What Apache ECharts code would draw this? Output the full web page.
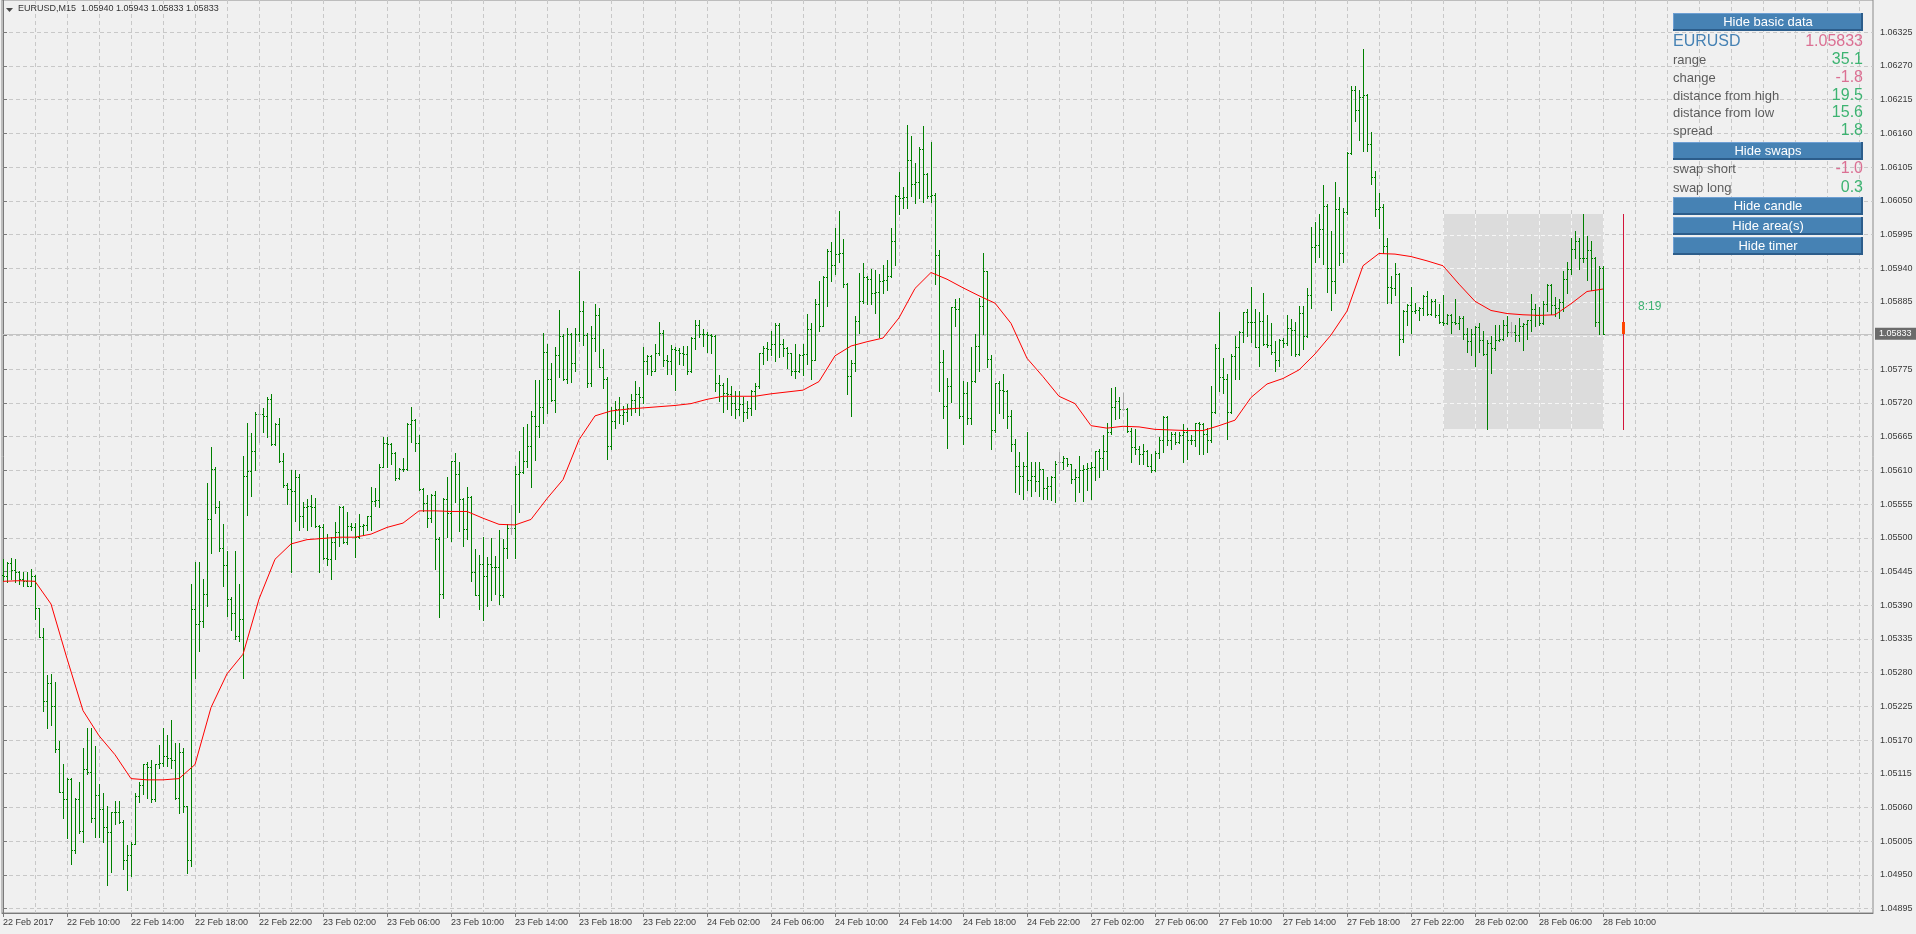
<!DOCTYPE html>
<html>
<head>
<meta charset="utf-8">
<title>EURUSD,M15</title>
<script src="https://cdn.jsdelivr.net/npm/echarts@6/dist/echarts.min.js"></script>
<style>
  html, body { margin: 0; padding: 0; background: #f0f0f0; }
  #chart { width: 1916px; height: 934px; }
</style>
</head>
<body>
<div id="chart"></div>
<script>
// EURUSD M15, 22 Feb 2017 06:00 -> 28 Feb 2017 10:00, prices in points (1e-5)
const openPts = [
  105440,105437,105459,105447,105445,105433,105429,105422,105437,105385,
  105338,105233,105263,105225,105155,105085,105074,105107,104990,105074,
  105022,105122,105118,105042,105081,105058,105028,105020,105052,105053,
  105036,104975,104982,105001,105079,105097,105131,105126,105073,105131,
  105133,105144,105140,105138,105075,105150,105062,104975,105384,105360,
  105365,105408,105531,105613,105550,105484,105456,105400,105377,105339,
  105368,105601,105609,105642,105702,105702,105699,105727,105653,105685,
  105626,105587,105580,105577,105599,105535,105551,105552,105551,105520,
  105517,105467,105465,105493,105509,105551,105493,105520,105517,105501,
  105520,105521,105535,105560,105562,105616,105654,105653,105638,105598,
  105612,105613,105686,105692,105654,105580,105556,105532,105570,105498,
  105408,105563,105540,105625,105604,105563,105514,105567,105444,105407,
  105458,105437,105458,105453,105452,105407,105484,105516,105516,105604,
  105607,105625,105650,105698,105683,105714,105803,105759,105725,105799,
  105830,105759,105832,105785,105832,105870,105831,105752,105826,105863,
  105779,105759,105650,105690,105710,105700,105705,105712,105725,105735,
  105730,105788,105797,105773,105802,105835,105791,105788,105808,105806,
  105802,105800,105772,105826,105847,105832,105833,105831,105830,105753,
  105750,105737,105735,105720,105710,105718,105705,105712,105740,105748,
  105802,105810,105808,105816,105848,105816,105810,105801,105773,105772,
  105799,105800,105840,105791,105881,105846,105925,105968,105946,105963,
  105965,105914,105764,105786,105854,105886,105925,105923,105900,105901,
  105919,105920,105927,105984,106058,106055,106056,106117,106077,106081,
  106135,106093,106058,106059,105961,105787,105715,105748,105876,105874,
  105698,105736,105696,105756,105813,105879,105935,105792,105676,105752,
  105741,105740,105699,105653,105617,105601,105618,105594,105601,105593,
  105612,105582,105584,105599,105623,105623,105630,105620,105596,105599,
  105611,105613,105614,105615,105641,105630,105642,105672,105713,105724,
  105710,105710,105675,105648,105645,105637,105641,105618,105610,105638,
  105659,105697,105659,105669,105656,105668,105672,105659,105660,105687,
  105686,105670,105659,105706,105809,105762,105759,105706,105796,105811,
  105836,105868,105853,105852,105812,105854,105816,105814,105803,105791,
  105823,105818,105842,105839,105800,105867,105829,105897,105975,105978,
  106004,106041,105940,105919,106037,105965,106031,106128,106231,106198,
  106220,106223,106142,106089,106037,106040,105976,105910,105908,105931,
  105824,105870,105880,105870,105872,105875,105895,105866,105886,105864,
  105853,105851,105863,105853,105851,105859,105833,105822,105832,105844,
  105823,105800,105818,105810,105823,105825,105847,105836,105836,105831,
  105845,105849,105856,105874,105863,105851,105881,105912,105880,105875,
  105885,105923,105939,105972,105984,105957,105956,105970,105957,105852,
  105940
];
const highPts = [
  105466,105461,105467,105466,105446,105444,105444,105449,105440,105385,
  105353,105276,105278,105264,105168,105131,105108,105108,105075,105101,
  105157,105189,105189,105160,105098,105084,105062,105053,105071,105070,
  105039,104999,105003,105084,105102,105131,105134,105137,105131,105162,
  105189,105179,105202,105165,105165,105157,105063,105425,105460,105460,
  105433,105589,105648,105616,105560,105523,105478,105403,105478,105425,
  105634,105688,105671,105705,105719,105712,105729,105734,105688,105696,
  105638,105589,105610,105611,105604,105558,105563,105570,105565,105521,
  105523,105506,105501,105525,105552,105552,105542,105524,105524,105539,
  105523,105536,105583,105582,105620,105664,105664,105655,105640,105614,
  105631,105687,105714,105694,105667,105582,105570,105571,105576,105502,
  105565,105599,105626,105638,105623,105565,105583,105568,105482,105472,
  105501,105468,105500,105471,105512,105498,105523,105554,105618,105641,
  105681,105685,105707,105758,105758,105835,105817,105786,105811,105872,
  105833,105843,105834,105843,105936,105886,105834,105846,105882,105875,
  105808,105762,105714,105723,105730,105715,105718,105735,105756,105746,
  105811,105798,105798,105817,105853,105839,105799,105815,105811,105810,
  105813,105813,105828,105855,105855,105840,105836,105833,105831,105766,
  105752,105761,105748,105740,105740,105729,105723,105741,105753,105802,
  105813,105820,105837,105851,105851,105824,105811,105802,105817,105800,
  105816,105865,105851,105889,105919,105927,105972,105983,106006,106033,
  105988,105916,105791,105862,105932,105948,105928,105939,105937,105930,
  105945,105953,106006,106059,106097,106073,106173,106155,106112,106137,
  106172,106095,106146,106062,105970,105806,105761,105877,105890,105892,
  105756,105754,105812,105832,105892,105964,105936,105798,105753,105756,
  105767,105741,105709,105662,105640,105624,105673,105623,105624,105623,
  105613,105599,105601,105625,105640,105634,105631,105621,105612,105634,
  105619,105622,105624,105642,105645,105668,105688,105744,105746,105729,
  105737,105712,105679,105678,105650,105653,105643,105637,105641,105664,
  105699,105699,105672,105673,105673,105686,105679,105667,105688,105689,
  105688,105679,105747,105816,105868,105793,105767,105800,105830,105838,
  105869,105873,105910,105873,105869,105900,105863,105851,105822,105824,
  105826,105864,105857,105853,105878,105878,105908,106008,106015,106029,
  106075,106044,106000,106080,106056,106038,106130,106238,106237,106231,
  106298,106225,106163,106098,106063,106044,105989,105927,105948,105932,
  105872,105882,105909,105884,105877,105897,105902,105889,105889,105881,
  105896,105865,105865,105890,105862,105862,105843,105840,105845,105851,
  105837,105823,105829,105848,105848,105856,105862,105852,105848,105858,
  105851,105856,105898,105881,105876,105886,105914,105914,105893,105889,
  105936,105950,105989,106000,105989,106028,105992,105984,105959,105943,
  105943
];
const lowPts = [
  105430,105428,105433,105428,105425,105422,105421,105421,105367,105338,
  105217,105189,105194,105150,105085,105042,105010,104968,104986,105019,
  105004,105115,105036,105011,105011,105004,104933,104955,105033,105035,
  104959,104926,104948,105000,105069,105082,105075,105069,105071,105124,
  105128,105127,105124,105073,105051,105052,104953,104964,105271,105316,
  105355,105389,105476,105540,105478,105422,105373,105350,105335,105332,
  105272,105538,105569,105610,105657,105672,105664,105652,105652,105623,
  105583,105555,105444,105528,105513,105517,105512,105520,105517,105444,
  105465,105455,105433,105465,105486,105491,105490,105513,105468,105500,
  105504,105513,105513,105552,105550,105615,105615,105620,105594,105596,
  105609,105610,105657,105641,105578,105544,105518,105525,105449,105371,
  105402,105501,105495,105558,105511,105487,105498,105429,105406,105384,
  105366,105389,105398,105408,105392,105403,105467,105506,105467,105542,
  105605,105616,105583,105627,105665,105687,105703,105724,105705,105763,
  105758,105752,105754,105773,105822,105814,105746,105747,105805,105778,
  105744,105629,105645,105680,105688,105685,105690,105700,105705,105700,
  105720,105767,105766,105772,105798,105780,105767,105768,105741,105783,
  105782,105768,105770,105808,105828,105813,105804,105802,105740,105723,
  105705,105710,105700,105695,105700,105690,105695,105700,105710,105745,
  105783,105791,105799,105789,105795,105797,105777,105766,105760,105770,
  105766,105783,105759,105790,105837,105845,105878,105919,105930,105950,
  105910,105734,105698,105772,105834,105884,105881,105881,105867,105827,
  105900,105904,105925,105946,106028,106039,106039,106058,106047,106055,
  106048,106055,106048,105915,105740,105696,105647,105722,105846,105696,
  105653,105685,105685,105755,105772,105832,105779,105645,105673,105704,
  105696,105680,105642,105575,105571,105563,105578,105568,105576,105568,
  105563,105563,105562,105558,105606,105612,105618,105589,105560,105575,
  105560,105578,105563,105595,105600,105610,105612,105669,105694,105695,
  105708,105673,105623,105637,105620,105620,105617,105608,105609,105631,
  105640,105652,105645,105653,105654,105623,105629,105653,105650,105637,
  105637,105640,105657,105704,105740,105737,105662,105704,105759,105759,
  105820,105830,105819,105811,105780,105815,105811,105800,105773,105780,
  105812,105815,105799,105796,105798,105808,105827,105875,105950,105959,
  105947,105901,105872,105900,105946,105950,106029,106126,106181,106149,
  106132,106132,106078,106026,106006,105965,105884,105883,105897,105799,
  105819,105848,105835,105867,105856,105864,105864,105863,105861,105851,
  105848,105849,105834,105849,105841,105825,105803,105799,105780,105804,
  105799,105677,105769,105807,105822,105823,105829,105829,105821,105821,
  105806,105825,105837,105845,105847,105849,105870,105865,105862,105859,
  105870,105900,105930,105956,105938,105950,105921,105905,105845,105833,
  105833
];
const closePts = [
  105437,105459,105447,105445,105433,105429,105422,105437,105385,105338,
  105233,105263,105225,105155,105085,105074,105107,104990,105074,105022,
  105122,105118,105042,105081,105058,105028,105020,105052,105053,105036,
  104975,104982,105001,105079,105097,105131,105126,105073,105131,105133,
  105144,105140,105138,105075,105150,105062,104975,105384,105360,105365,
  105408,105531,105613,105550,105484,105456,105400,105377,105339,105368,
  105601,105609,105642,105702,105702,105699,105727,105653,105685,105626,
  105587,105580,105577,105599,105535,105551,105552,105551,105520,105517,
  105467,105465,105493,105509,105551,105493,105520,105517,105501,105520,
  105521,105535,105560,105562,105616,105654,105653,105638,105598,105612,
  105613,105686,105692,105654,105580,105556,105532,105570,105498,105408,
  105563,105540,105625,105604,105563,105514,105567,105444,105407,105458,
  105437,105458,105453,105452,105407,105484,105516,105516,105604,105607,
  105625,105650,105698,105683,105714,105803,105759,105725,105799,105830,
  105759,105832,105785,105832,105870,105831,105752,105826,105863,105779,
  105759,105650,105690,105710,105700,105705,105712,105725,105735,105730,
  105788,105797,105773,105802,105835,105791,105788,105808,105806,105802,
  105800,105772,105826,105847,105832,105833,105831,105830,105753,105750,
  105737,105735,105720,105710,105718,105705,105712,105740,105748,105802,
  105810,105808,105816,105848,105816,105810,105801,105773,105772,105799,
  105800,105840,105791,105881,105846,105925,105968,105946,105963,105965,
  105914,105764,105786,105854,105886,105925,105923,105900,105901,105919,
  105920,105927,105984,106058,106055,106056,106117,106077,106081,106135,
  106093,106058,106059,105961,105787,105715,105748,105876,105874,105698,
  105736,105696,105756,105813,105879,105935,105792,105676,105752,105741,
  105740,105699,105653,105617,105601,105618,105594,105601,105593,105612,
  105582,105584,105599,105620,105623,105630,105620,105596,105599,105611,
  105613,105614,105615,105641,105630,105642,105672,105713,105724,105710,
  105710,105675,105648,105645,105637,105641,105618,105610,105638,105659,
  105697,105659,105669,105656,105668,105672,105659,105660,105687,105686,
  105670,105659,105706,105809,105762,105759,105706,105796,105811,105836,
  105868,105853,105852,105812,105854,105816,105814,105803,105791,105823,
  105818,105842,105839,105800,105867,105829,105897,105975,105978,106004,
  106041,105940,105919,106037,105965,106031,106128,106231,106198,106220,
  106223,106142,106089,106037,106040,105976,105910,105908,105931,105824,
  105870,105880,105870,105872,105875,105895,105866,105886,105864,105853,
  105851,105863,105853,105851,105859,105833,105822,105832,105844,105823,
  105800,105818,105810,105823,105825,105847,105836,105836,105831,105845,
  105849,105856,105874,105863,105851,105881,105912,105880,105875,105885,
  105923,105939,105972,105984,105957,105956,105970,105957,105852,105940,
  105833
];
// red moving average, read every 4 bars
const maStep = 4;
const maPts = [
  105429,105430,105429,105392,105303,105218,105177,105146,105107,105105,
  105105,105107,105130,105223,105278,105310,105400,105465,105490,105497,
  105499,105501,105501,105506,105517,105524,105544,105544,105543,105543,
  105532,105522,105521,105530,105564,105595,105660,105699,105707,105710,
  105712,105714,105716,105719,105726,105731,105731,105731,105735,105738,
  105741,105755,105797,105813,105820,105826,105859,105907,105933,105922,
  105908,105895,105883,105850,105793,105763,105731,105719,105683,105679,
  105682,105681,105677,105676,105675,105675,105683,105692,105729,105751,
  105760,105774,105800,105831,105870,105944,105964,105963,105959,105952,
  105944,105914,105886,105871,105866,105864,105863,105864,105882,105902,
  105906
];
// today's range (28 Feb) and its candle, drawn right of the last bar
const dayStartBar = 360, dayEndBar = 400, dayCandleBar = 405;
const dayOpenPts = 105853, dayHighPts = 106028, dayLowPts = 105677, dayClosePts = 105833;
const currentPricePts = 105833;

const timeLabels = ['22 Feb 2017','22 Feb 10:00','22 Feb 14:00','22 Feb 18:00','22 Feb 22:00',
  '23 Feb 02:00','23 Feb 06:00','23 Feb 10:00','23 Feb 14:00','23 Feb 18:00','23 Feb 22:00',
  '24 Feb 02:00','24 Feb 06:00','24 Feb 10:00','24 Feb 14:00','24 Feb 18:00','24 Feb 22:00',
  '27 Feb 02:00','27 Feb 06:00','27 Feb 10:00','27 Feb 14:00','27 Feb 18:00','27 Feb 22:00',
  '28 Feb 02:00','28 Feb 06:00','28 Feb 10:00'];
const barsPerLabel = 16, barsPerGridLine = 8;
const priceGrid = [1.06325,1.06270,1.06215,1.06160,1.06105,1.06050,1.05995,1.05940,1.05885,1.05830,
  1.05775,1.05720,1.05665,1.05610,1.05555,1.05500,1.05445,1.05390,1.05335,1.05280,1.05225,1.05170,
  1.05115,1.05060,1.05005,1.04950,1.04895];
const hiddenPriceLabel = 1.05830; // covered by the current price tag

const FONT = '"Liberation Sans", Arial, sans-serif';
const GREEN = '#3cb371', PINK = '#db7093', STEEL = '#4682b4';
const P = v => v / 1e5;

const xMin = -0.25, xMax = 467.5;
const yMin = 1.048877, yMax = 1.063777;

const barData = openPts.map((o, i) => [i, P(o), P(highPts[i]), P(lowPts[i]), P(closePts[i])]);
const maData = maPts.map((v, k) => [k * maStep, P(v)]);
const labelIdx = timeLabels.map((t, k) => k * barsPerLabel);
const gridIdx = [];
for (let g = 0; g <= xMax; g += barsPerGridLine) gridIdx.push(g);
const priceLabels = priceGrid.filter(v => v !== hiddenPriceLabel);

function renderBar(params, api) {
  const i = api.value(0);
  const o = api.value(1), h = api.value(2), l = api.value(3), c = api.value(4);
  const px = Math.round(api.coord([i, h])[0]);
  const yH = Math.round(api.coord([i, h])[1]);
  const yL = Math.round(api.coord([i, l])[1]);
  const yO = Math.round(api.coord([i, o])[1]) + 0.5;
  const yC = Math.round(api.coord([i, c])[1]) + 0.5;
  const col = o === c ? '#a9a9a9' : '#008000';
  const st = { stroke: col, lineWidth: 1 };
  return {
    type: 'group',
    children: [
      { type: 'line', shape: { x1: px + 0.5, y1: yH, x2: px + 0.5, y2: yL + 1 }, style: st },
      { type: 'line', shape: { x1: px - 1, y1: yO, x2: px, y2: yO }, style: st },
      { type: 'line', shape: { x1: px + 1, y1: yC, x2: px + 2, y2: yC }, style: st }
    ]
  };
}

function renderArea(params, api) {
  const x0 = api.value(0), lo = api.value(1), x1 = api.value(2), hi = api.value(3);
  const a = api.coord([x0, hi]), b = api.coord([x1, lo]);
  const left = Math.round(a[0]), right = Math.round(b[0]) + 1;
  const top = Math.round(a[1]), bottom = Math.round(b[1]);
  const dash = { stroke: '#f6f6f6', lineWidth: 1, lineDash: [4, 3] };
  const kids = [{ type: 'rect', shape: { x: left, y: top, width: right - left, height: bottom - top }, style: { fill: '#dcdcdc' } }];
  priceGrid.forEach(v => {
    if (v > lo && v < hi) {
      const y = Math.round(api.coord([x0, v])[1]) + 0.5;
      kids.push({ type: 'line', shape: { x1: left, y1: y, x2: right, y2: y }, style: dash });
    }
  });
  gridIdx.forEach(g => {
    if (g >= x0 && g <= x1) {
      const x = Math.round(api.coord([g, lo])[0]) + 0.5;
      kids.push({ type: 'line', shape: { x1: x, y1: top, x2: x, y2: bottom }, style: dash });
    }
  });
  return { type: 'group', children: kids };
}

function renderDayCandle(params, api) {
  const i = api.value(0);
  const o = api.value(1), h = api.value(2), l = api.value(3), c = api.value(4);
  const px = Math.round(api.coord([i, h])[0]);
  const yH = Math.round(api.coord([i, h])[1]);
  const yL = Math.round(api.coord([i, l])[1]);
  const yO = Math.round(api.coord([i, o])[1]);
  const yC = Math.round(api.coord([i, c])[1]);
  return {
    type: 'group',
    children: [
      { type: 'line', shape: { x1: px + 0.5, y1: yH, x2: px + 0.5, y2: yL + 1 }, style: { stroke: '#d2143a', lineWidth: 1 } },
      { type: 'rect', shape: { x: px - 1, y: Math.min(yO, yC), width: 3, height: Math.max(2, Math.abs(yC - yO)) }, style: { fill: '#ff4500' } }
    ]
  };
}

// info panel (top right)
const panelL = 1673, panelW = 190, panelR = panelL + panelW;
const buttons = [['Hide basic data', 13], ['Hide swaps', 142], ['Hide candle', 197], ['Hide area(s)', 217], ['Hide timer', 237]];
const infoRows = [
  ['range', '35.1', GREEN, 60], ['change', '-1.8', PINK, 78], ['distance from high', '19.5', GREEN, 96],
  ['distance from low', '15.6', GREEN, 113], ['spread', '1.8', GREEN, 131],
  ['swap short', '-1.0', PINK, 169], ['swap long', '0.3', GREEN, 188]
];
function txt(x, y, text, size, fill, align) {
  return { type: 'text', x: x, y: y, silent: true, z: 20,
    style: { text: text, fill: fill, font: size + 'px ' + FONT, textAlign: align, align: align,
             textVerticalAlign: 'middle', verticalAlign: 'middle' } };
}
function box(x, y, w, h, fill) {
  return { type: 'rect', shape: { x: x, y: y, width: w, height: h }, style: { fill: fill }, silent: true, z: 20 };
}
const graphics = [];
buttons.forEach(([label, y]) => {
  graphics.push(box(panelL, y, panelW, 18, STEEL));
  graphics.push(box(panelL, y, panelW, 1, '#6d9fd3'));
  graphics.push(box(panelL, y, 1, 18, '#6d9fd3'));
  graphics.push(box(panelL, y + 16, panelW, 2, '#2c5d8b'));
  graphics.push(box(panelR - 2, y, 2, 18, '#2c5d8b'));
  graphics.push(txt(panelL + panelW / 2, y + 9, label, 13, '#ffffff', 'center'));
});
graphics.push(txt(panelL, 42, 'EURUSD', 16, STEEL, 'left'));
graphics.push(txt(panelR, 42, P(currentPricePts).toFixed(5), 16, PINK, 'right'));
infoRows.forEach(([label, val, col, y]) => {
  graphics.push(txt(panelL, y, label, 13, '#5c5c5c', 'left'));
  graphics.push(txt(panelR, y, val, 16, col, 'right'));
});
// chart title and timer
graphics.push({ type: 'polygon', shape: { points: [[6, 8], [13, 8], [9.5, 12]] }, style: { fill: '#4a4a4a' }, silent: true, z: 20 });
graphics.push(txt(18, 9, 'EURUSD,M15  1.05940 1.05943 1.05833 1.05833', 9, '#333333', 'left'));
graphics.push(txt(1638, 307, '8:19', 12, GREEN, 'left'));

const chart = echarts.init(document.getElementById('chart'));
chart.setOption({
  backgroundColor: '#f0f0f0',
  animation: false,
  textStyle: { fontFamily: FONT },
  grid: { left: 2, right: 43, top: 0, bottom: 21, show: true, borderColor: '#8a8a8a', borderWidth: 1 },
  xAxis: [{
    type: 'value', min: xMin, max: xMax, position: 'bottom',
    axisLine: { show: true, onZero: false, lineStyle: { color: '#7a7a7a' } },
    axisTick: { show: true, length: 4, customValues: labelIdx, lineStyle: { color: '#7a7a7a' } },
    axisLabel: { customValues: labelIdx, formatter: v => timeLabels[Math.round(v / barsPerLabel)] || '',
      align: 'left', margin: 5, color: '#3a3a3a', fontSize: 9, fontFamily: FONT },
    splitLine: { show: false }
  }, {
    type: 'value', min: xMin, max: xMax, position: 'bottom',
    axisLine: { show: false }, axisLabel: { show: false },
    axisTick: { show: false, customValues: gridIdx },
    splitLine: { show: true, lineStyle: { color: '#c8c8c8', type: [4, 3], width: 1 } }
  }],
  yAxis: {
    type: 'value', position: 'right', min: yMin, max: yMax, scale: true,
    axisLine: { show: true, lineStyle: { color: '#7a7a7a' } },
    axisTick: { show: true, length: 4, customValues: priceGrid, lineStyle: { color: '#7a7a7a' } },
    axisLabel: { customValues: priceLabels, formatter: v => v.toFixed(5), margin: 7,
      color: '#3a3a3a', fontSize: 9, fontFamily: FONT },
    splitLine: { show: true, lineStyle: { color: '#c8c8c8', type: [4, 3], width: 1 } }
  },
  graphic: { elements: graphics },
  series: [{
    name: 'day area', type: 'custom', z: 1, silent: true,
    renderItem: renderArea,
    encode: { x: [0, 2], y: [1, 3] },
    data: [[dayStartBar, P(dayLowPts), dayEndBar, P(dayHighPts)]]
  }, {
    name: 'EURUSD', type: 'custom', z: 3, silent: true,
    renderItem: renderBar,
    encode: { x: 0, y: [1, 2, 3, 4] },
    data: barData
  }, {
    name: 'day candle', type: 'custom', z: 3, silent: true,
    renderItem: renderDayCandle,
    encode: { x: 0, y: [1, 2, 3, 4] },
    data: [[dayCandleBar, P(dayOpenPts), P(dayHighPts), P(dayLowPts), P(dayClosePts)]]
  }, {
    name: 'MA', type: 'line', z: 4, silent: true,
    data: maData, showSymbol: false, symbol: 'none',
    lineStyle: { color: '#ff0000', width: 1 },
    markLine: {
      silent: true, symbol: ['none', 'none'], animation: false, precision: 5, z: 2,
      lineStyle: { color: '#c4c4c4', width: 1, type: 'solid' },
      label: { show: true, position: 'end', distance: 2, formatter: p => Number(p.value).toFixed(5),
        backgroundColor: '#6b6b6b', color: '#ffffff', fontSize: 9, fontFamily: FONT, padding: [2, 8, 1, 4] },
      data: [{ yAxis: P(currentPricePts) }]
    }
  }]
});
</script>
</body>
</html>
